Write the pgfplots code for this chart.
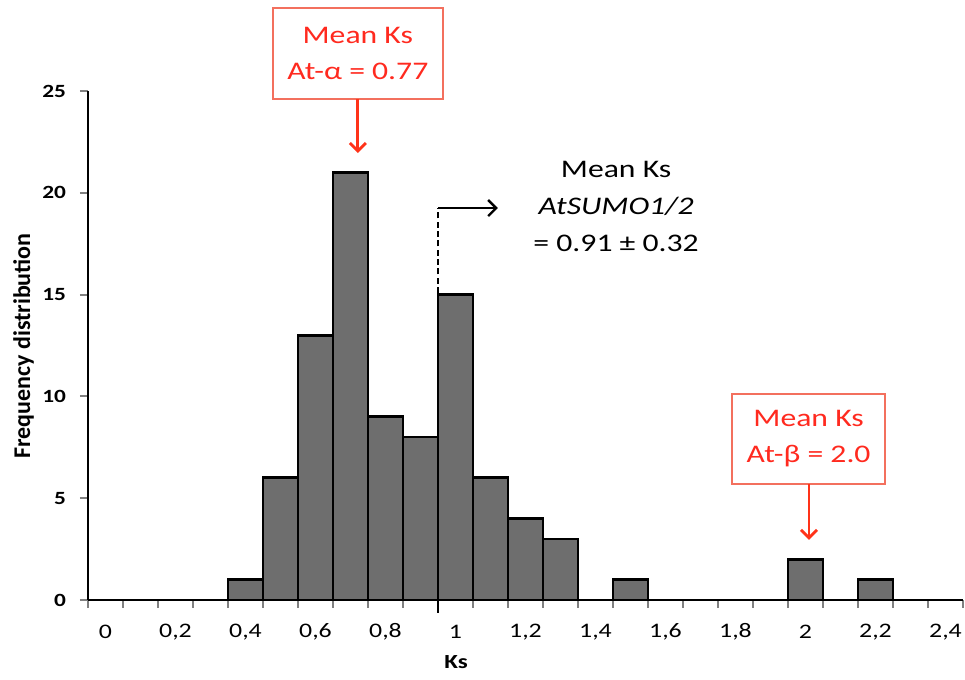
\documentclass[border=0pt]{standalone}
\usepackage{pgfplots}
\pgfplotsset{compat=1.18}
\usetikzlibrary{arrows.meta}
\usepackage{fontspec}
% the reference text is set noticeably wide, so stretch Carlito a bit
\setmainfont{Carlito}[FakeStretch=1.25]
\newfontfamily\ylabfont{Carlito}
\definecolor{barfill}{HTML}{6E6E6E}
\definecolor{txtred}{HTML}{FF2A1F}
\definecolor{boxred}{HTML}{F3705E}
\definecolor{arrred}{HTML}{FF3319}

\begin{document}
\begin{tikzpicture}
\begin{axis}[
    name=ax,
    scale only axis,
    width=656.25pt, height=381.75pt,
    xmin=-0.05, xmax=2.45,
    ymin=0, ymax=25,
    axis lines*=left,
    axis line style={-, line width=2pt},
    tick align=outside,
    xtick={0,0.2,0.4,0.6,0.8,1,1.2,1.4,1.6,1.8,2,2.2,2.4},
    xticklabels={0,{0,2},{0,4},{0,6},{0,8},1,{1,2},{1,4},{1,6},{1,8},2,{2,2},{2,4}},
    minor xtick={-0.05,0.05,0.15,0.25,0.35,0.45,0.55,0.65,0.75,0.85,0.95,1.05,1.15,1.25,1.35,1.45,1.55,1.65,1.75,1.85,1.95,2.05,2.15,2.25,2.35,2.45},
    major x tick style={draw=none},
    minor x tick style={line width=1.6pt},
    minor tick length=6pt,
    ytick={0,5,10,15,20,25},
    major y tick style={line width=1.6pt},
    major tick length=6pt,
    /pgf/number format/assume math mode=true,
    xticklabel style={font=\fontsize{15.5}{18}\selectfont, anchor=center, yshift=-18pt},
    yticklabel style={font=\bfseries\fontsize{14}{16}\selectfont, xshift=-7pt},
    xlabel={Ks},
    xlabel style={font=\bfseries\fontsize{15}{18}\selectfont, at={(axis description cs:0.4206,-0.122)}, anchor=center},
    ylabel={Frequency distribution},
    ylabel style={font=\ylabfont\bfseries\fontsize{18}{22}\selectfont, at={(axis description cs:-0.0737,0.499)}, anchor=center},
    clip=false,
]

% histogram counts per Ks class (class width 0.1)
\addplot[ybar, bar width=0.1, fill=barfill, draw=black, line width=2pt] coordinates {
    (0.4,1) (0.5,6) (0.6,13) (0.7,21) (0.8,9) (0.9,8) (1.0,15)
    (1.1,6) (1.2,4) (1.3,3) (1.5,1) (2.0,2) (2.2,1)
};

% longer tick under the 1.0 class
\draw[line width=1.6pt] (axis cs:0.95,0) -- ([yshift=-10pt]axis cs:0.95,0);

% At-alpha annotation
\node[draw=boxred, line width=1.2pt, fill=white, text=txtred, align=center,
      minimum width=127.5pt, minimum height=68.25pt,
      font=\fontsize{19}{27}\selectfont] at (axis cs:0.721,26.84) {Mean Ks\\At-α = 0.77};
\draw[arrred, line width=2.2pt, -{Straight Barb[length=6pt,width=12pt]}] (axis cs:0.721,24.6) -- (axis cs:0.721,21.95);

% At-beta annotation
\node[draw=boxred, line width=1.2pt, fill=white, text=txtred, align=center,
      minimum width=114.75pt, minimum height=67.5pt,
      font=\fontsize{19}{27}\selectfont] at (axis cs:2.009,7.91) {Mean Ks\\At-β = 2.0};
\draw[arrred, line width=2.2pt, -{Straight Barb[length=6pt,width=12pt]}] (axis cs:2.01,5.70) -- (axis cs:2.01,2.95);

% AtSUMO1/2 mean
\draw[line width=1.8pt, dash pattern=on 4.5pt off 2.5pt] (axis cs:0.95,15.08) -- (axis cs:0.95,19.25);
\draw[line width=1.8pt, -{Straight Barb[length=6pt,width=12pt]}] (axis cs:0.95,19.25) -- (axis cs:1.121,19.25);
\node[align=center, font=\fontsize{19}{27.75}\selectfont] at (axis cs:1.459,19.35)
    {Mean Ks\\\textit{AtSUMO1/2}\\= 0.91 ± 0.32};

\end{axis}
\pgfresetboundingbox
\path ([xshift=-66pt,yshift=-60pt]ax.south west) rectangle ([xshift=1.5pt,yshift=68.25pt]ax.north east);
\end{tikzpicture}
\end{document}
